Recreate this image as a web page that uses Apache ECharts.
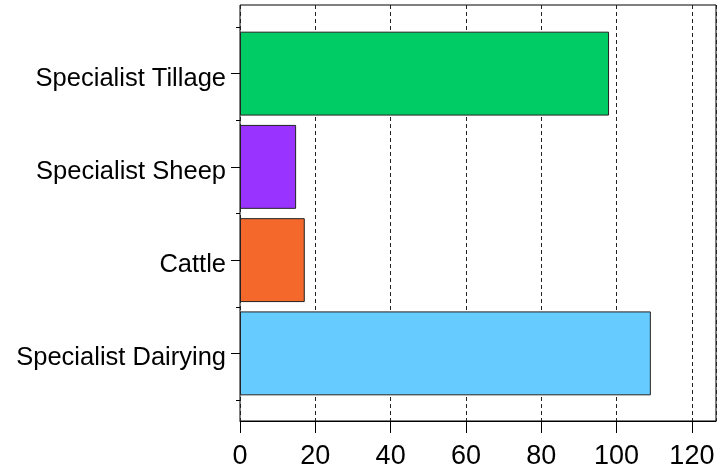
<!DOCTYPE html>
<html>
<head>
<meta charset="utf-8">
<script src="https://cdn.jsdelivr.net/npm/echarts@6/dist/echarts.min.js"></script>
<style>
  html, body { margin: 0; padding: 0; background: #fff; }
  #chart { width: 718px; height: 474px; }
</style>
</head>
<body>
<div id="chart"></div>
<script>
// categories listed bottom to top
const categories = ['Specialist Dairying', 'Cattle', 'Specialist Sheep', 'Specialist Tillage']
const values = [109.1, 17.2, 14.9, 98.0]
const barColors = ['#66CCFF', '#F4682C', '#9933FF', '#00CC66']
const xTicks = [0, 20, 40, 60, 80, 100, 120]

const font = '"Liberation Sans", Arial, sans-serif'
const xMax = 126.4

const chart = echarts.init(document.getElementById('chart'))

chart.setOption({
  animation: false,
  grid: [
    // outer frame with the value axis
    { left: 240, right: 2, top: 5, bottom: 53, show: true, borderColor: '#000', borderWidth: 1, backgroundColor: 'transparent' },
    // inner area for the bars (padding above and below like the reference)
    { left: 240, right: 2, top: 27, bottom: 74 }
  ],
  xAxis: [
    {
      gridIndex: 0,
      type: 'value',
      min: 0,
      max: xMax,
      interval: 20,
      axisLine: { show: true, lineStyle: { color: '#000', width: 1 } },
      axisTick: { show: true, length: 12, lineStyle: { color: '#000' } },
      axisLabel: {
        color: '#000',
        fontFamily: font,
        fontSize: 27,
        margin: 22,
        showMaxLabel: false,
        formatter: v => (xTicks.indexOf(v) >= 0 ? String(v) : '')
      },
      splitLine: { show: true, lineStyle: { color: '#222', type: [4, 3], width: 1 } }
    },
    {
      gridIndex: 1,
      type: 'value',
      min: 0,
      max: xMax,
      show: false
    }
  ],
  yAxis: [
    {
      gridIndex: 1,
      type: 'category',
      data: categories,
      boundaryGap: true,
      axisLine: { show: false },
      axisTick: { show: true, length: 4, lineStyle: { color: '#000' } },
      axisLabel: {
        color: '#000',
        fontFamily: font,
        fontSize: 25.5,
        margin: 14,
        formatter: v => '{t|' + v + '}',
        rich: { t: { color: '#000', fontFamily: font, fontSize: 25.5, padding: [10, 0, 0, 0] } }
      },
      splitLine: { show: false }
    },
    {
      gridIndex: 1,
      type: 'category',
      data: categories,
      position: 'left',
      axisLine: { show: false },
      axisTick: { show: true, alignWithLabel: true, length: 9, lineStyle: { color: '#000' } },
      axisLabel: { show: false }
    },
    {
      gridIndex: 0,
      type: 'value',
      min: 0,
      max: 1,
      show: false
    }
  ],
  series: [
    {
      type: 'bar',
      xAxisIndex: 1,
      yAxisIndex: 0,
      barCategoryGap: '10%',
      data: values.map((v, i) => ({
        value: v,
        itemStyle: { color: barColors[i], borderColor: '#222', borderWidth: 1 }
      }))
    }
  ]
})
</script>
</body>
</html>
